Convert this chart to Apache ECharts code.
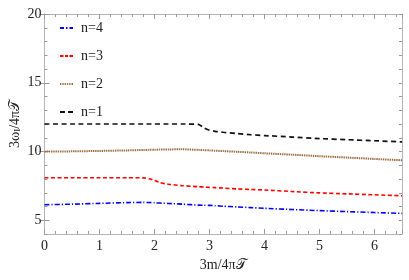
<!DOCTYPE html>
<html>
<head>
<meta charset="utf-8">
<script src="https://cdn.jsdelivr.net/npm/echarts@6/dist/echarts.min.js"></script>
<style>html,body{margin:0;padding:0;background:#fff}#c{width:409px;height:280px}</style>
</head>
<body>
<div id="c"></div>
<script>
var xs = [0,0.5,1,1.5,1.8,1.9,2,2.1,2.25,2.5,2.8,2.9,3,3.1,3.25,3.5,3.75,4,4.5,5,5.5,6,6.5];
var n1 = [12,12,12,12,12,12,12,12,12,12,11.97,11.72,11.55,11.47,11.4,11.3,11.22,11.16,11.05,10.94,10.86,10.78,10.7];
var n2 = [9.99,10.01,10.04,10.08,10.11,10.12,10.13,10.14,10.15,10.16,10.12,10.1,10.08,10.06,10.03,9.98,9.93,9.87,9.77,9.66,9.56,9.46,9.36];
var n3 = [8.09,8.09,8.09,8.09,8.08,8.02,7.9,7.74,7.62,7.52,7.44,7.42,7.39,7.37,7.34,7.28,7.24,7.2,7.09,6.99,6.92,6.85,6.78];
var n4 = [6.13,6.17,6.23,6.28,6.3,6.29,6.27,6.25,6.22,6.17,6.1,6.09,6.08,6.06,6.02,5.97,5.92,5.87,5.78,5.7,5.63,5.56,5.5];
var seriesNames = ['n=4','n=3','n=2','n=1'];
var yMajor = [5,10,15,20];

function pairs(v){ return xs.map(function(x,i){ return [x, v[i]]; }); }
var FONT = 'Liberation Serif';
var lineCol = '#b4b4b4', tickCol = '#9a9a9a';

var chart = echarts.init(document.getElementById('c'), null, {renderer:'canvas'});
function xAx(pos, labels){
  return {
    type:'value', min:0, max:6.5, interval:1, position:pos,
    axisLine:{show:true, onZero:false, lineStyle:{color:lineCol, width:1}},
    axisTick:{show:true, inside:true, length:5, lineStyle:{color:tickCol}},
    minorTick:{show:true, splitNumber:5, length:3, lineStyle:{color:tickCol}},
    splitLine:{show:false}, minorSplitLine:{show:false},
    axisLabel:{show:labels, showMaxLabel:false, fontFamily:FONT, fontSize:14, color:'#222', margin:5},
    name: labels ? '3m/4π𝒯' : '', nameLocation:'middle', nameGap:18,
    nameTextStyle:{fontFamily:FONT, fontSize:14, color:'#222'}
  };
}
function yMinor(pos){
  return {
    type:'value', min:4, max:20, interval:1, position:pos,
    axisLine:{show:true, onZero:false, lineStyle:{color:lineCol, width:1}},
    axisTick:{show:true, inside:true, length:3, lineStyle:{color:tickCol}},
    splitLine:{show:false}, axisLabel:{show:false},
    name: pos==='left' ? '3ω{s|I}/4π𝒯' : '', nameLocation:'middle', nameGap:22,
    nameTextStyle:{fontFamily:FONT, fontSize:14, color:'#222', rich:{s:{fontFamily:FONT, fontSize:9, color:'#222', padding:[6,0,0,0]}}}
  };
}
function yMaj(pos, labels){
  return {
    type:'value', min:4, max:20, interval:1, position:pos,
    axisLine:{show:false},
    axisTick:{show:true, inside:true, length:5, customValues:yMajor, lineStyle:{color:tickCol}},
    splitLine:{show:false},
    axisLabel:{show:labels, customValues:yMajor, fontFamily:FONT, fontSize:14, color:'#222', margin:3}
  };
}
var icons = [
  'path://M0,0h4v2h-4z M6,0h1.5v2h-1.5z M9.5,0h3.5v2h-3.5z',
  'path://M0,0h3.5v2h-3.5z M5,0h3v2h-3z M9.5,0h3.5v2h-3.5z',
  'path://M0,0h1.3v2h-1.3z M2.3,0h1.3v2h-1.3z M4.6,0h1.3v2h-1.3z M6.9,0h1.3v2h-1.3z M9.2,0h1.3v2h-1.3z M11.5,0h1.5v2h-1.5z',
  'path://M0,0h5v2h-5z M8,0h5v2h-5z'
];
var styles = [
  {color:'#0000ff', type:[5,2,1.2,2], w:1.6, data:n4},
  {color:'#ff0000', type:[4,2.5], w:1.6, data:n3},
  {color:'#9c6d42', type:[1.4,0.8], w:2, data:n2},
  {color:'#111111', type:[5,3.5], w:1.7, data:n1}
];
var series = styles.map(function(s,i){
  return {
    name:seriesNames[i], type:'line', xAxisIndex:0, yAxisIndex:0,
    data:pairs(s.data), symbol:'none', showSymbol:false, smooth:0.2, animation:false,
    lineStyle:{color:s.color, width:s.w, type:s.type}, itemStyle:{color:s.color}
  };
});
chart.setOption({
  animation:false,
  backgroundColor:'#fff',
  grid:{left:44, right:7, top:14, bottom:46, containLabel:false},
  legend:{
    orient:'vertical', left:55, top:16, itemWidth:13, itemHeight:14, itemGap:14,
    data:seriesNames.map(function(n,i){ return {name:n, icon:icons[i]}; }),
    textStyle:{fontFamily:FONT, fontSize:14, color:'#222', padding:[0,0,0,3]}
  },
  xAxis:[xAx('bottom', true), xAx('top', false)],
  yAxis:[yMinor('left'), yMaj('left', true), yMinor('right'), yMaj('right', false)],
  series:series
});
</script>
</body>
</html>
